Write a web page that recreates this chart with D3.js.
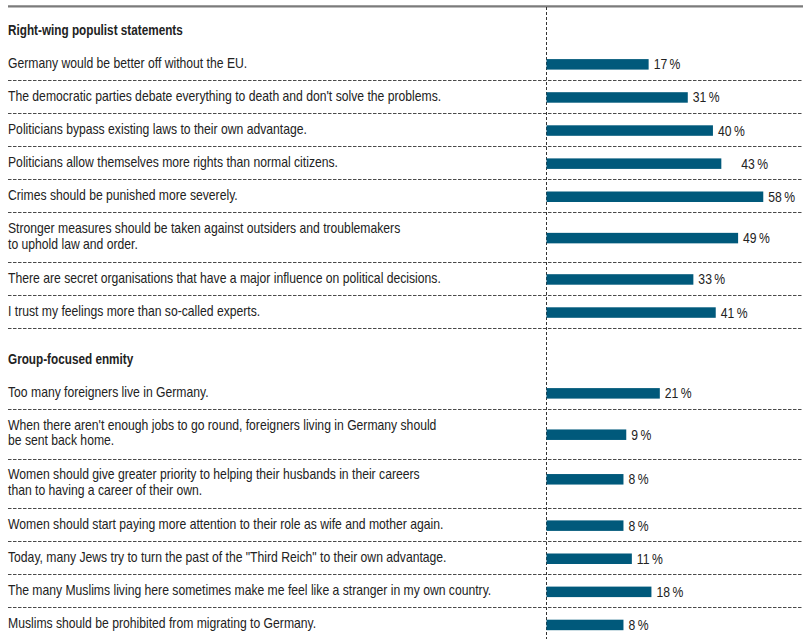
<!DOCTYPE html>
<html>
<head>
<meta charset="utf-8">
<script src="https://cdn.jsdelivr.net/npm/d3@7"></script>
<style>
  html, body { margin: 0; padding: 0; background: #fff; }
  svg { display: block; }
  .txt { font-family: "Liberation Sans", Arial, sans-serif; fill: #222; }
</style>
</head>
<body>
<svg id="chart" width="803" height="639"></svg>
<script>
// Survey agreement shares (%), two statement groups
const groupTitles = ["Right-wing populist statements", "Group-focused enmity"];

const populistStatements = [
  ["Germany would be better off without the EU."],
  ["The democratic parties debate everything to death and don't solve the problems."],
  ["Politicians bypass existing laws to their own advantage."],
  ["Politicians allow themselves more rights than normal citizens."],
  ["Crimes should be punished more severely."],
  ["Stronger measures should be taken against outsiders and troublemakers", "to uphold law and order."],
  ["There are secret organisations that have a major influence on political decisions."],
  ["I trust my feelings more than so-called experts."]
];
const populistValues = [17, 31, 40, 43, 58, 49, 33, 41];

const enmityStatements = [
  ["Too many foreigners live in Germany."],
  ["When there aren't enough jobs to go round, foreigners living in Germany should", "be sent back home."],
  ["Women should give greater priority to helping their husbands in their careers", "than to having a career of their own."],
  ["Women should start paying more attention to their role as wife and mother again."],
  ["Today, many Jews try to turn the past of the \"Third Reich\" to their own advantage."],
  ["The many Muslims living here sometimes make me feel like a stranger in my own country."],
  ["Muslims should be prohibited from migrating to Germany."]
];
const enmityValues = [21, 9, 8, 8, 11, 18, 8];

const groups = [
  { title: groupTitles[0], rows: populistStatements.map((lines, i) => ({ lines, value: populistValues[i] })) },
  { title: groupTitles[1], rows: enmityStatements.map((lines, i) => ({ lines, value: enmityValues[i] })) }
];

// ---- layout ----
const W = 803, H = 639;
const leftX = 8;
const axisX = 546;            // dashed reference line where bars begin
const barColor = "#00597b";
const fontSize = 14.5;
const narrowBody = 0.84;      // horizontal squeeze for a condensed look
const narrowHead = 0.81;
const singleRowH = 33.1, doubleRowH = 49.6;
const barH = 10.5;

const svg = d3.select("#chart");
const squeeze = (tx, ty, s) => `translate(${tx},${ty}) scale(${s},1)`;

// value scale for bar ends
const x = d3.scaleLinear().domain([0, 100]).range([601.1, 880.7]);

// top rule
svg.append("line")
  .attr("x1", leftX).attr("x2", W)
  .attr("y1", 6.3).attr("y2", 6.3)
  .attr("stroke", "#7b7b7b").attr("stroke-width", 2.2);

// compute row positions
const groupStarts = [46.8, 375.8];
const rowsFlat = [];
groups.forEach((g, gi) => {
  let y = groupStarts[gi];
  g.headerY = y - 11.5;
  g.rows.forEach((r, ri) => {
    const h = r.lines.length > 1 ? doubleRowH : singleRowH;
    r.top = y; r.bottom = y + h; r.center = y + h / 2;
    r.group = gi; r.index = ri;
    y += h;
    rowsFlat.push(r);
  });
});

// separators
svg.append("g").selectAll("line")
  .data(rowsFlat)
  .join("line")
  .attr("x1", leftX).attr("x2", W)
  .attr("y1", d => Math.round(d.bottom) + 0.5).attr("y2", d => Math.round(d.bottom) + 0.5)
  .attr("stroke", "#4a4a4a").attr("stroke-width", 1)
  .attr("stroke-dasharray", "3.5,1.5");

// vertical dashed reference line
svg.append("line")
  .attr("x1", axisX + 0.5).attr("x2", axisX + 0.5)
  .attr("y1", 7).attr("y2", H)
  .attr("stroke", "#333").attr("stroke-width", 1)
  .attr("stroke-dasharray", "3,2");

// group headers
svg.append("g").selectAll("text")
  .data(groups)
  .join("text")
  .attr("class", "txt")
  .attr("transform", d => squeeze(leftX, d.headerY, narrowHead))
  .attr("font-size", fontSize)
  .attr("font-weight", "bold")
  .text(d => d.title);

// statement labels
const labels = svg.append("g").selectAll("text")
  .data(rowsFlat)
  .join("text")
  .attr("class", "txt")
  .attr("font-size", fontSize)
  .attr("transform", d => squeeze(leftX, d.lines.length > 1 ? d.center - 4 : d.center + 4.5, narrowBody));
labels.selectAll("tspan")
  .data(d => d.lines.map((t, i) => ({ t, i })))
  .join("tspan")
  .attr("x", 0)
  .attr("dy", d => d.i === 0 ? 0 : 15.5)
  .text(d => d.t);

// bars: the career-priority row sits level with its first text line
const barLift = (d) => (d.group === 1 && d.index === 2) ? 5 : 0;
svg.append("g").selectAll("rect")
  .data(rowsFlat)
  .join("rect")
  .attr("x", axisX + 0.5)
  .attr("y", d => d.center + 1 - barH / 2 - barLift(d))
  .attr("width", d => x(d.value) - axisX - 0.5)
  .attr("height", barH)
  .attr("fill", barColor);

// value labels
const labelGap = (d) => (d.group === 0 && d.index === 3) ? 20 : 5;
svg.append("g").selectAll("text")
  .data(rowsFlat)
  .join("text")
  .attr("class", "txt")
  .attr("font-size", fontSize)
  .attr("fill", "#2a2a2a")
  .attr("transform", d => squeeze(x(d.value) + labelGap(d), d.center + 1 + 5 - barLift(d), narrowBody))
  .text(d => d.value + "\u2009%");
</script>
</body>
</html>
